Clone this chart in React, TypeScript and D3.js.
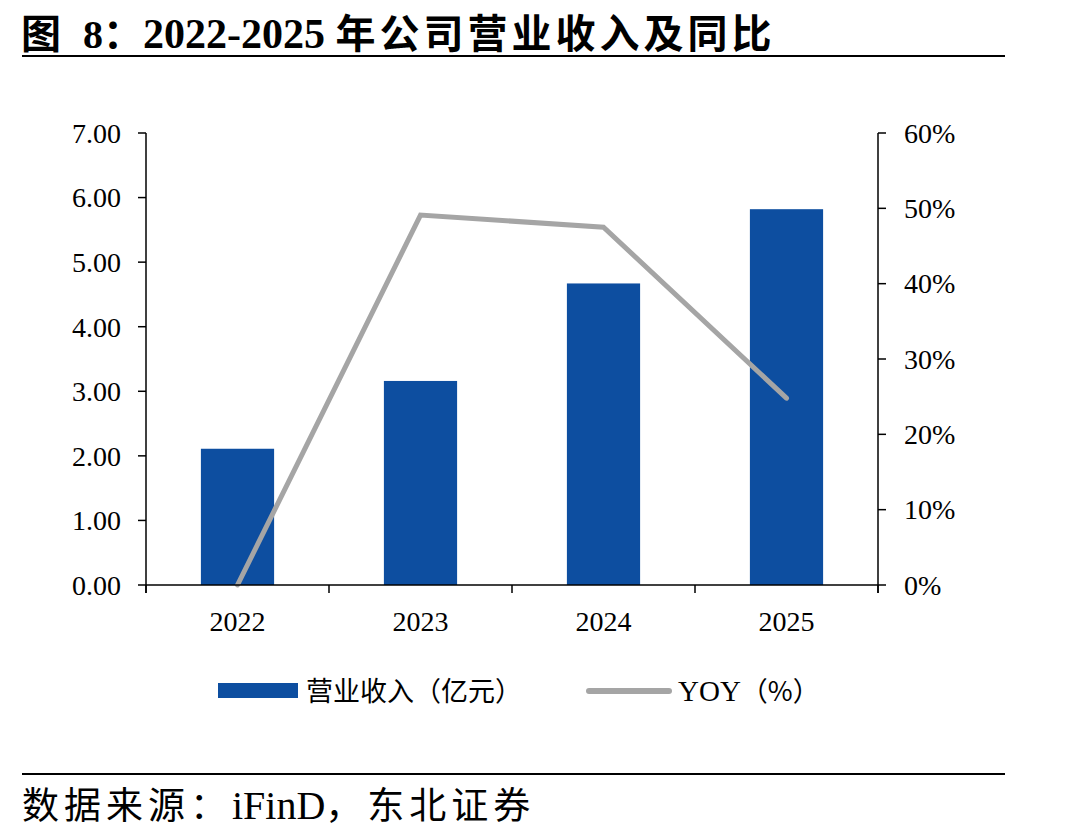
import React from "react";
import * as d3 from "d3";

const years = ["2022", "2023", "2024", "2025"];
const revenue = [2.11, 3.16, 4.67, 5.82];
const yoy = [0, 49.1, 47.5, 24.8];
const leftTicks = [0, 1, 2, 3, 4, 5, 6, 7];
const rightTicks = [0, 10, 20, 30, 40, 50, 60];

const serif = "'Liberation Serif', 'Times New Roman', serif";
const cjk = "'Noto Sans CJK SC', sans-serif";

export default function App() {
  const width = 1090;
  const height = 839;
  const left = 146;
  const right = 878;
  const top = 133;
  const bottom = 585;

  const x = d3.scaleBand<string>().domain(years).range([left, right]).paddingInner(0.6).paddingOuter(0.3);
  const band = d3.scaleBand<string>().domain(years).range([left, right]);
  const yL = d3.scaleLinear().domain([0, 7]).range([bottom, top]);
  const yR = d3.scaleLinear().domain([0, 60]).range([bottom, top]);

  const line = d3
    .line<number>()
    .x((_, i) => (band(years[i]) ?? 0) + band.bandwidth() / 2)
    .y((d) => yR(d));

  const boundaries = [...years.map((y) => band(y) ?? 0), right];

  return (
    <svg width={width} height={height} style={{ position: "absolute", left: 0, top: 0, background: "#fff" }}>
      {/* title */}
      <text x={21} y={48} fontSize={40} fontWeight="bold" fill="#000">
        <tspan fontFamily={cjk}>图</tspan>
        <tspan fontFamily={serif} dx={22}>8</tspan>
        <tspan fontFamily={cjk}>：</tspan>
        <tspan fontFamily={serif} fontSize={42}>2022-2025 </tspan>
        <tspan fontFamily={cjk} letterSpacing={4}>年公司营业收入及同比</tspan>
      </text>
      <line x1={22} x2={1005} y1={56} y2={56} stroke="#000" strokeWidth={2} />

      {/* bars */}
      {revenue.map((v, i) => (
        <rect
          key={years[i]}
          x={x(years[i])}
          width={x.bandwidth()}
          y={yL(v)}
          height={bottom - yL(v)}
          fill="#0D4EA0"
        />
      ))}

      {/* yoy line */}
      <path d={line(yoy) ?? ""} fill="none" stroke="#A5A5A5" strokeWidth={5} strokeLinejoin="miter" strokeLinecap="round" />

      {/* axes */}
      <g stroke="#000" strokeWidth={1.5}>
        <line x1={left} x2={left} y1={top} y2={bottom + 8} />
        <line x1={right} x2={right} y1={top} y2={bottom + 8} />
        <line x1={left} x2={right} y1={bottom} y2={bottom} />
        {leftTicks.map((t) => (
          <line key={"l" + t} x1={left - 8} x2={left} y1={yL(t)} y2={yL(t)} />
        ))}
        {rightTicks.map((t) => (
          <line key={"r" + t} x1={right} x2={right + 8} y1={yR(t)} y2={yR(t)} />
        ))}
        {boundaries.map((b, i) => (
          <line key={"b" + i} x1={b} x2={b} y1={bottom} y2={bottom + 8} />
        ))}
      </g>
      <g fontFamily={serif} fontSize={28} fill="#000">
        {leftTicks.map((t) => (
          <text key={"lt" + t} x={121} y={yL(t)} dy="0.35em" textAnchor="end">
            {t.toFixed(2)}
          </text>
        ))}
        {rightTicks.map((t) => (
          <text key={"rt" + t} x={904} y={yR(t)} dy="0.35em">
            {t}%
          </text>
        ))}
        {years.map((y) => (
          <text key={"x" + y} x={(band(y) ?? 0) + band.bandwidth() / 2} y={621} dy="0.35em" textAnchor="middle">
            {y}
          </text>
        ))}
      </g>

      {/* legend */}
      <rect x={218} y={683} width={80} height={15} fill="#0D4EA0" />
      <text x={306} y={701} fontFamily={cjk} fontSize={27} fill="#000">营业收入（亿元）</text>
      <line x1={589} x2={669} y1={691} y2={691} stroke="#A5A5A5" strokeWidth={6} strokeLinecap="round" />
      <text x={678} y={701} fontSize={27} fill="#000">
        <tspan fontFamily={serif} fontSize={29}>YOY</tspan>
        <tspan fontFamily={cjk}>（%）</tspan>
      </text>

      {/* footer */}
      <line x1={22} x2={1005} y1={774} y2={774} stroke="#000" strokeWidth={2} />
      <text x={22} y={819} fontSize={37} fill="#000">
        <tspan fontFamily={cjk} letterSpacing={5}>数据来源：</tspan>
        <tspan fontFamily={serif} fontSize={40}>iFinD</tspan>
        <tspan fontFamily={cjk} letterSpacing={5}>，东北证券</tspan>
      </text>
    </svg>
  );
}
